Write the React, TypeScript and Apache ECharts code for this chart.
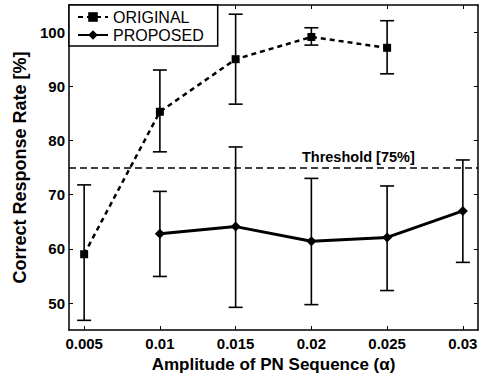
import React, { useEffect, useRef } from "react";
import * as echarts from "echarts";

const xTicks = [0.005, 0.01, 0.015, 0.02, 0.025, 0.03];
const yTicks = [50, 60, 70, 80, 90, 100];

const originalX = [0.005, 0.01, 0.015, 0.02, 0.025];
const originalMean = [59.0, 85.3, 95.0, 99.1, 97.1];
const originalLow = [46.8, 77.9, 86.7, 97.6, 92.3];
const originalHigh = [71.8, 93.0, 103.3, 100.8, 102.1];

const proposedX = [0.01, 0.015, 0.02, 0.025, 0.03];
const proposedMean = [62.8, 64.1, 61.4, 62.1, 67.0];
const proposedLow = [54.9, 49.2, 49.7, 52.3, 57.5];
const proposedHigh = [70.6, 78.8, 73.0, 71.6, 76.4];

const threshold = 75;
const thresholdLabel = "Threshold [75%]";
const thresholdLabelX = 0.0231;

const FONT = "'Liberation Sans', Arial, Helvetica, sans-serif";

function errorBarItem(params: any, api: any) {
  const x = api.value(0);
  const lo = api.coord([x, api.value(1)]);
  const hi = api.coord([x, api.value(2)]);
  const w = 7;
  const style = { stroke: "#000", lineWidth: 1.6 };
  return {
    type: "group",
    children: [
      { type: "line", shape: { x1: lo[0], y1: lo[1], x2: hi[0], y2: hi[1] }, style },
      { type: "line", shape: { x1: hi[0] - w, y1: hi[1], x2: hi[0] + w, y2: hi[1] }, style },
      { type: "line", shape: { x1: lo[0] - w, y1: lo[1], x2: lo[0] + w, y2: lo[1] }, style },
    ],
  };
}

export default function App() {
  const ref = useRef<HTMLDivElement>(null);
  useEffect(() => {
    if (!ref.current) return;
    const chart = echarts.init(ref.current, null, { renderer: "svg" });
    const axisLine = { show: true, lineStyle: { color: "#000", width: 1.5 } };
    const option: any = {
      animation: false,
      backgroundColor: "#fff",
      textStyle: { fontFamily: FONT },
      grid: { left: 69, right: 11, top: 5, bottom: 43, containLabel: false },
      legend: {
        left: 69,
        top: 5,
        orient: "vertical",
        backgroundColor: "#fff",
        borderColor: "#000",
        borderWidth: 1.5,
        borderRadius: 0,
        padding: [4, 14, 3, 8],
        itemGap: 2,
        itemWidth: 30,
        itemHeight: 12,
        textStyle: { fontSize: 16, color: "#000", fontFamily: FONT },
        data: ["ORIGINAL", "PROPOSED"],
        z: 10,
      },
      xAxis: [
        {
          type: "value",
          min: 0.004,
          max: 0.031,
          position: "bottom",
          name: "Amplitude of PN Sequence (\u03b1)",
          nameLocation: "middle",
          nameGap: 21,
          nameTextStyle: { fontSize: 17, fontWeight: "bold", color: "#000", fontFamily: FONT },
          axisLine,
          axisTick: { show: true, inside: true, length: 4, customValues: xTicks, lineStyle: { color: "#000" } },
          axisLabel: {
            show: true,
            customValues: xTicks,
            formatter: (v: number) => String(v),
            fontSize: 15,
            fontWeight: "bold",
            color: "#000",
            margin: 6,
            fontFamily: FONT,
          },
          splitLine: { show: false },
        },
        {
          type: "value",
          min: 0.004,
          max: 0.031,
          position: "top",
          axisLine,
          axisTick: { show: true, inside: true, length: 4, customValues: xTicks, lineStyle: { color: "#000" } },
          axisLabel: { show: false },
          splitLine: { show: false },
        },
      ],
      yAxis: [
        {
          type: "value",
          min: 45,
          max: 105,
          position: "left",
          name: "Correct Response Rate [%]",
          nameLocation: "middle",
          nameGap: 38,
          nameTextStyle: { fontSize: 18, fontWeight: "bold", color: "#000", fontFamily: FONT },
          axisLine,
          axisTick: { show: true, inside: true, length: 4, customValues: yTicks, lineStyle: { color: "#000" } },
          axisLabel: {
            show: true,
            customValues: yTicks,
            fontSize: 15,
            fontWeight: "bold",
            color: "#000",
            margin: 4,
            fontFamily: FONT,
          },
          splitLine: { show: false },
        },
        {
          type: "value",
          min: 45,
          max: 105,
          position: "right",
          axisLine,
          axisTick: { show: true, inside: true, length: 4, customValues: yTicks, lineStyle: { color: "#000" } },
          axisLabel: { show: false },
          splitLine: { show: false },
        },
      ],
      series: [
        {
          name: "ORIGINAL",
          type: "line",
          data: originalX.map((x, i) => [x, originalMean[i]]),
          symbol: "rect",
          symbolSize: 8,
          itemStyle: { color: "#000" },
          lineStyle: { color: "#000", width: 2.5, type: [5, 4] },
          z: 3,
          markLine: {
            silent: true,
            symbol: "none",
            label: { show: false },
            lineStyle: { color: "#000", width: 1.5, type: [7, 4] },
            data: [{ yAxis: threshold }],
          },
          markPoint: {
            silent: true,
            symbol: "circle",
            symbolSize: 1,
            itemStyle: { color: "rgba(0,0,0,0)" },
            label: {
              show: true,
              position: "top",
              distance: 3,
              formatter: thresholdLabel,
              fontSize: 14.5,
              fontWeight: "bold",
              color: "#000",
              fontFamily: FONT,
            },
            data: [{ coord: [thresholdLabelX, threshold] }],
          },
        },
        {
          name: "PROPOSED",
          type: "line",
          data: proposedX.map((x, i) => [x, proposedMean[i]]),
          symbol: "diamond",
          symbolSize: 10,
          itemStyle: { color: "#000" },
          lineStyle: { color: "#000", width: 3 },
          z: 3,
        },
        {
          name: "origErr",
          type: "custom",
          renderItem: errorBarItem,
          data: originalX.map((x, i) => [x, originalLow[i], originalHigh[i]]),
          encode: { x: 0, y: [1, 2] },
          z: 2,
        },
        {
          name: "propErr",
          type: "custom",
          renderItem: errorBarItem,
          data: proposedX.map((x, i) => [x, proposedLow[i], proposedHigh[i]]),
          encode: { x: 0, y: [1, 2] },
          z: 2,
        },
      ],
    };
    chart.setOption(option);
    return () => chart.dispose();
  }, []);
  return <div ref={ref} style={{ width: 489, height: 378, position: "absolute", left: 0, top: 0 }} />;
}
